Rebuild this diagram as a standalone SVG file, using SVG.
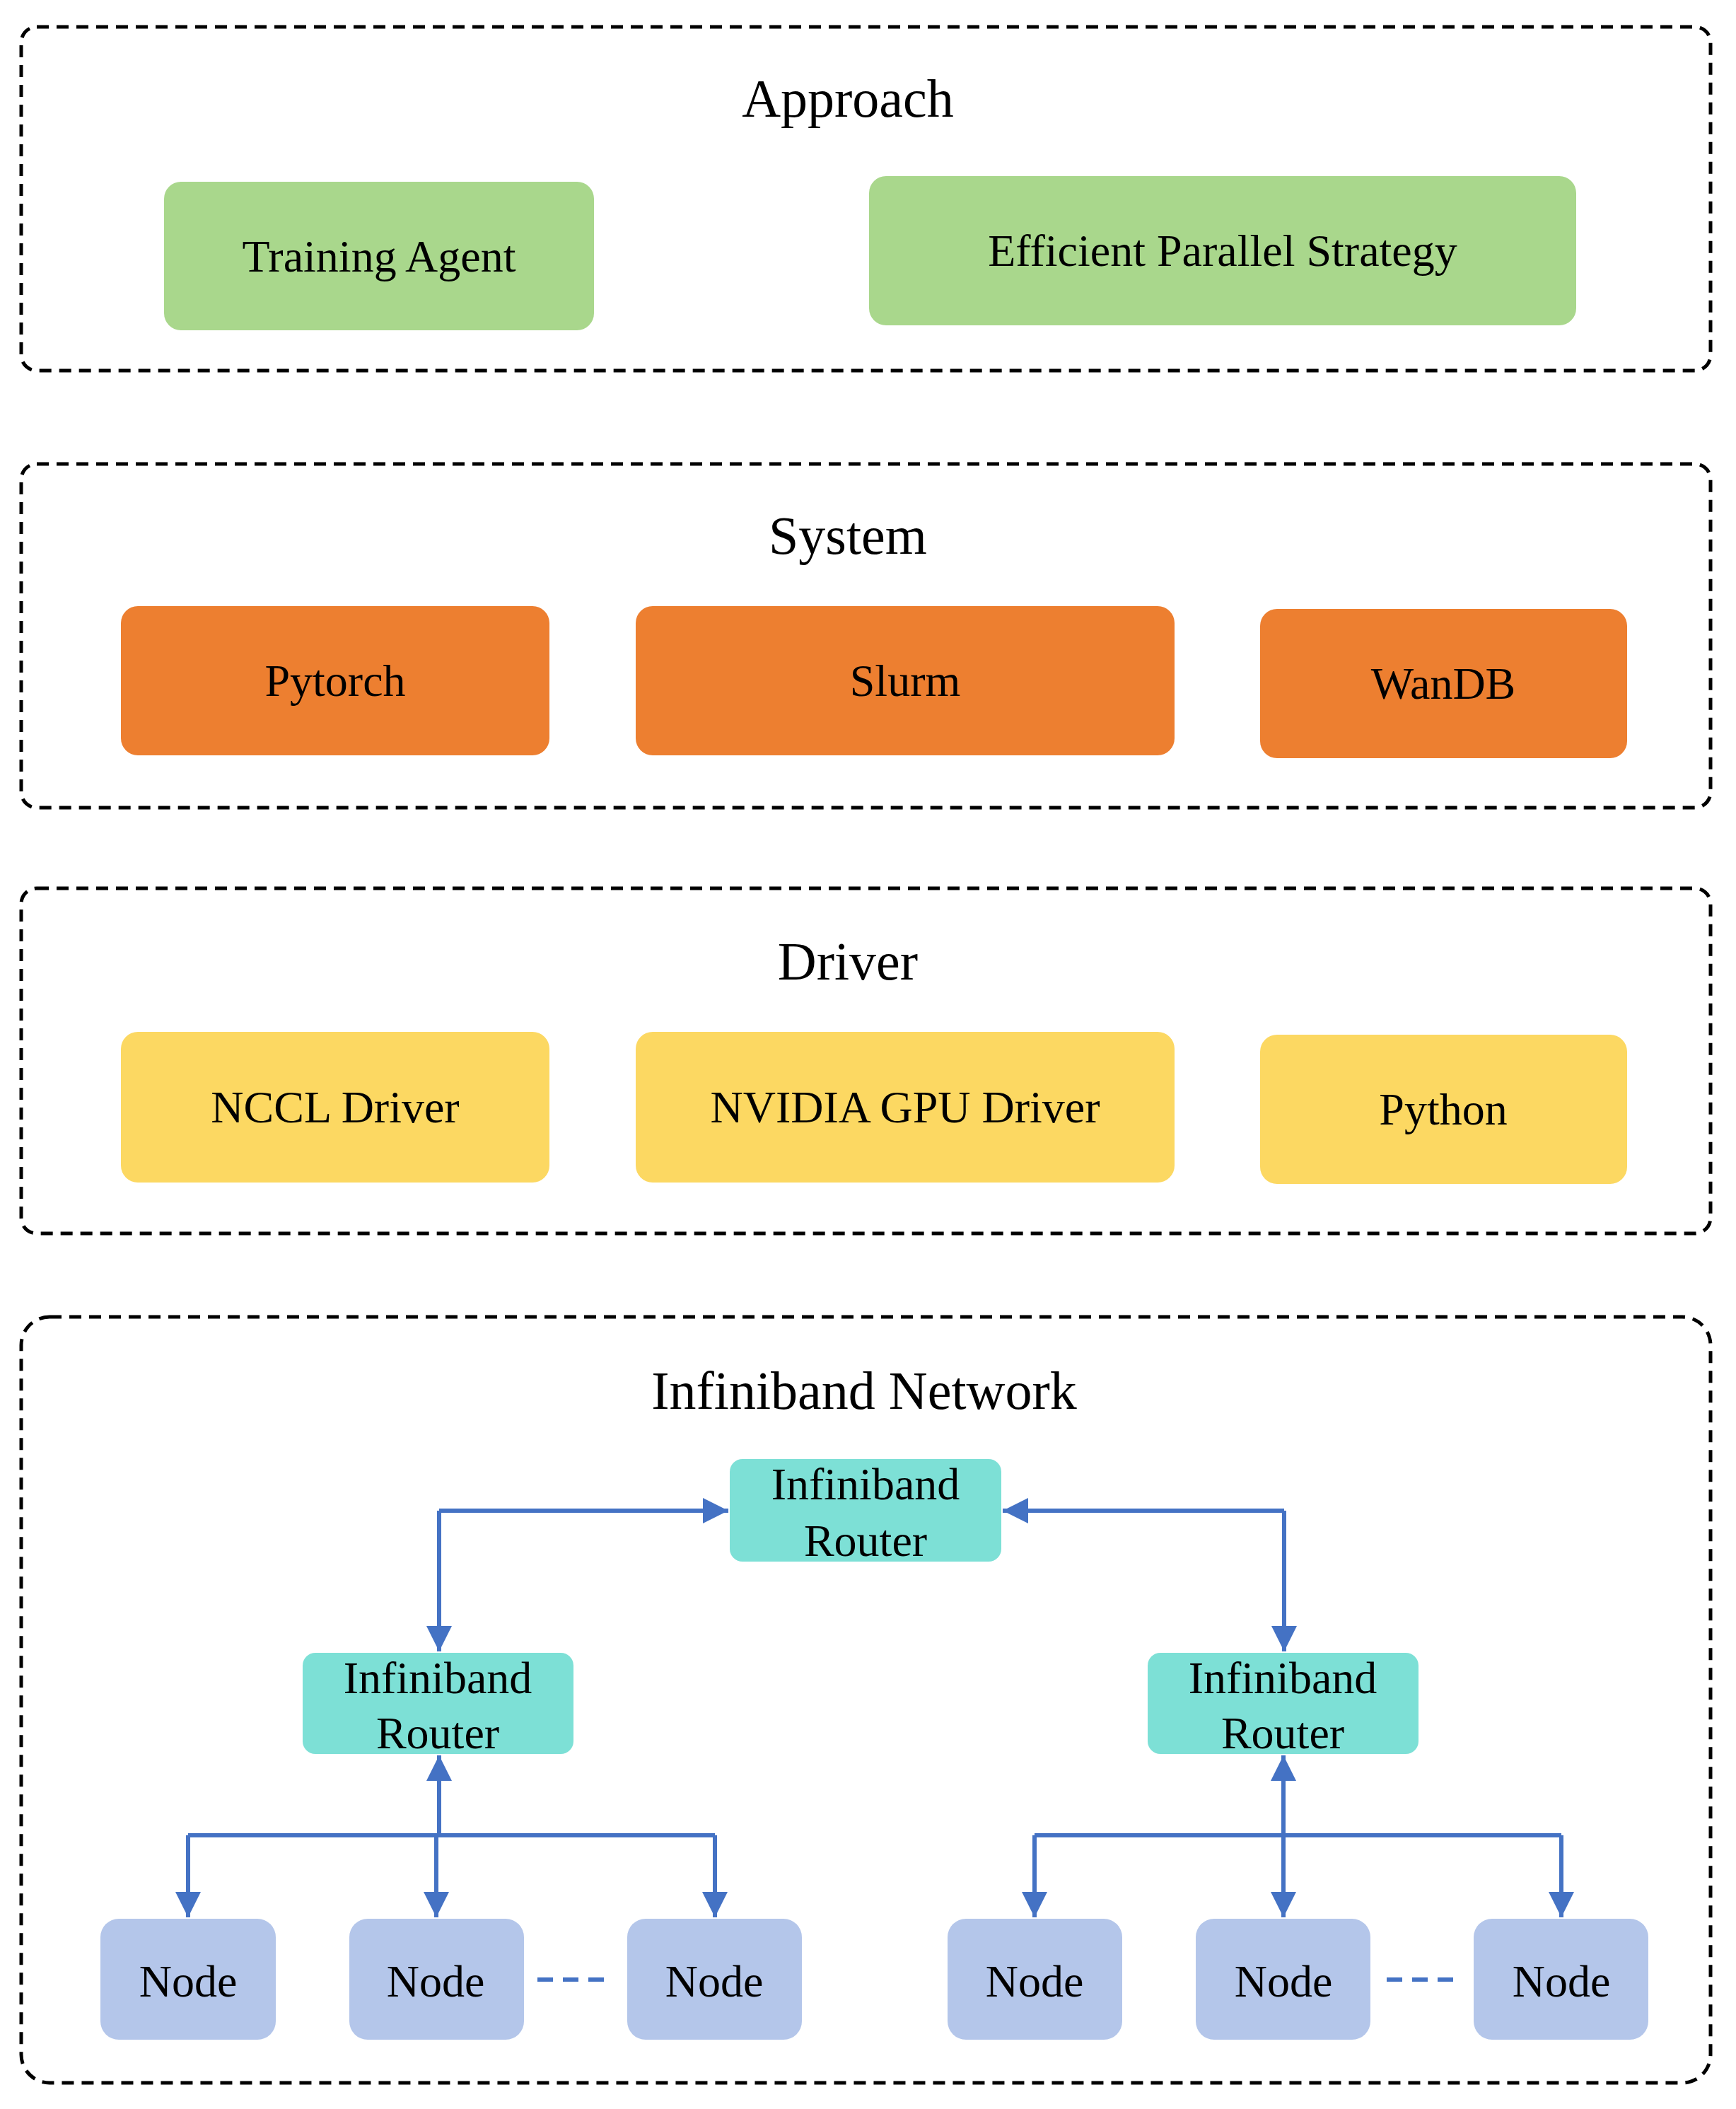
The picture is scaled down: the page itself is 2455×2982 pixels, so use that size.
<svg xmlns="http://www.w3.org/2000/svg" width="2455" height="2982" viewBox="0 0 2455 2982">
<style>
.grp{fill:none;stroke:#000;stroke-width:5;stroke-dasharray:17 11}
text{font-family:"Liberation Serif","Times New Roman",serif;fill:#000;text-anchor:middle}
.t{font-size:76px}.l{font-size:64px}
.g{fill:#A9D78C}.o{fill:#ED7F30}.y{fill:#FCD862}.c{fill:#7DE0D6}.n{fill:#B4C6EA}
.ln{fill:none;stroke:#4472C4;stroke-width:6}
</style>
<defs><marker id="a" viewBox="0 0 10 10" refX="10" refY="5" markerWidth="6" markerHeight="6" orient="auto" markerUnits="strokeWidth"><path d="M0,0L10,5L0,10z" fill="#4472C4"/></marker></defs>
<g id="approach"><rect class="grp" x="30" y="38" width="2389" height="486" rx="22"/><text class="t" x="1199" y="165">Approach</text></g>
<g id="training-agent"><rect class="g" x="232" y="257" width="608" height="210" rx="24"/><text class="l" x="536" y="384">Training Agent</text></g>
<g id="efficient"><rect class="g" x="1229" y="249" width="1000" height="211" rx="24"/><text class="l" x="1729" y="376">Efficient Parallel Strategy</text></g>
<g id="system"><rect class="grp" x="30" y="656" width="2389" height="486" rx="22"/><text class="t" x="1199" y="783">System</text></g>
<g id="pytorch"><rect class="o" x="171" y="857" width="606" height="211" rx="24"/><text class="l" x="474" y="984">Pytorch</text></g>
<g id="slurm"><rect class="o" x="899" y="857" width="762" height="211" rx="24"/><text class="l" x="1280" y="984">Slurm</text></g>
<g id="wandb"><rect class="o" x="1782" y="861" width="519" height="211" rx="24"/><text class="l" x="2041" y="988">WanDB</text></g>
<g id="driver"><rect class="grp" x="30" y="1256" width="2389" height="488" rx="22"/><text class="t" x="1199" y="1385">Driver</text></g>
<g id="nccl"><rect class="y" x="171" y="1459" width="606" height="213" rx="24"/><text class="l" x="474" y="1587">NCCL Driver</text></g>
<g id="nvidia"><rect class="y" x="899" y="1459" width="762" height="213" rx="24"/><text class="l" x="1280" y="1587">NVIDIA GPU Driver</text></g>
<g id="python"><rect class="y" x="1782" y="1463" width="519" height="211" rx="24"/><text class="l" x="2041" y="1590">Python</text></g>
<g id="network"><rect class="grp" x="30" y="1862" width="2389" height="1083" rx="40"/><text class="t" x="1222" y="1992">Infiniband Network</text></g>
<g id="router-top"><rect class="c" x="1032" y="2063" width="384" height="145" rx="18"/><text class="l" x="1224" y="2120">Infiniband</text><text class="l" x="1224" y="2200">Router</text></g>
<g id="router-left"><rect class="c" x="428" y="2337" width="383" height="143" rx="18"/><text class="l" x="619" y="2394">Infiniband</text><text class="l" x="619" y="2472">Router</text></g>
<g id="router-right"><rect class="c" x="1623" y="2337" width="383" height="143" rx="18"/><text class="l" x="1814" y="2394">Infiniband</text><text class="l" x="1814" y="2472">Router</text></g>
<g id="node1"><rect class="n" x="142" y="2713" width="248" height="171" rx="26"/><text class="l" x="266" y="2823">Node</text></g>
<g id="node2"><rect class="n" x="494" y="2713" width="247" height="171" rx="26"/><text class="l" x="616" y="2823">Node</text></g>
<g id="node3"><rect class="n" x="887" y="2713" width="247" height="171" rx="26"/><text class="l" x="1010" y="2823">Node</text></g>
<g id="node4"><rect class="n" x="1340" y="2713" width="247" height="171" rx="26"/><text class="l" x="1463" y="2823">Node</text></g>
<g id="node5"><rect class="n" x="1691" y="2713" width="247" height="171" rx="26"/><text class="l" x="1815" y="2823">Node</text></g>
<g id="node6"><rect class="n" x="2084" y="2713" width="247" height="171" rx="26"/><text class="l" x="2208" y="2823">Node</text></g>
<g id="connectors">
<path class="ln" d="M621,2136H1030" marker-end="url(#a)"/>
<path class="ln" d="M621,2136V2335" marker-end="url(#a)"/>
<path class="ln" d="M1816,2136H1418" marker-end="url(#a)"/>
<path class="ln" d="M1816,2136V2335" marker-end="url(#a)"/>
<path class="ln" d="M621,2595V2482" marker-end="url(#a)"/>
<path class="ln" d="M266,2595H1011"/>
<path class="ln" d="M266,2595V2711" marker-end="url(#a)"/>
<path class="ln" d="M617,2595V2711" marker-end="url(#a)"/>
<path class="ln" d="M1011,2595V2711" marker-end="url(#a)"/>
<path class="ln" d="M1815,2595V2482" marker-end="url(#a)"/>
<path class="ln" d="M1463,2595H2208"/>
<path class="ln" d="M1463,2595V2711" marker-end="url(#a)"/>
<path class="ln" d="M1815,2595V2711" marker-end="url(#a)"/>
<path class="ln" d="M2208,2595V2711" marker-end="url(#a)"/>
<path class="ln" d="M760,2799H865" stroke-dasharray="22 14"/>
<path class="ln" d="M1961,2799H2067" stroke-dasharray="22 14"/>
</g>
</svg>
